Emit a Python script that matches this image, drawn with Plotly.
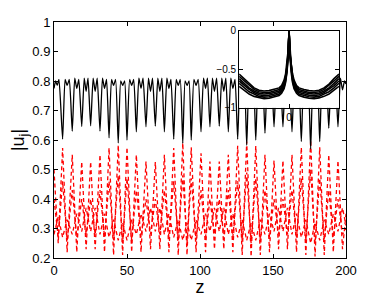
import plotly.graph_objects as go

# ---------------- main panel data ----------------
black_z = [0, 1.1, 2.2, 3.4,
           5.9, 7.6, 9.0, 10.5,
           12.5, 14.2, 15.6, 17.0,
           19.0, 20.7, 22.0, 23.3,
           25.1, 26.8, 28.2, 29.6,
           31.5, 33.2, 34.6, 36.0,
           37.7, 39.4, 40.8, 42.2,
           44.0, 45.7, 47.0, 48.4,
           50.0, 51.8, 53.2, 54.6,
           56.4, 58.1, 59.6, 61.0,
           63.0, 64.7, 66.1, 67.5,
           69.4, 71.1, 72.5, 73.9,
           75.6, 77.3, 78.7, 80.1,
           82.0, 83.7, 85.1, 86.5,
           88.2, 89.8, 91.1, 92.5,
           94.0, 95.8, 97.3, 98.8,
           100.7, 102.4, 103.8, 105.1,
           106.8, 108.5, 109.9, 111.4,
           113.2, 114.9, 116.3, 117.7,
           119.4, 121.1, 122.5, 124.0,
           125.8, 127.5, 128.9, 130.3,
           132.0, 133.7, 135.0, 136.5,
           138.2, 139.9, 141.3, 142.8,
           144.5, 146.2, 147.6, 149.0,
           150.7, 152.4, 153.8, 155.1,
           156.8, 158.5, 159.9, 161.3,
           163.0, 164.7, 166.1, 167.6,
           169.4, 171.1, 172.5, 174.0,
           175.8, 177.5, 178.8, 180.3,
           182.0, 183.7, 185.1, 186.5,
           188.2, 189.9, 191.3, 192.7,
           194.5, 196.2, 197.6, 199.0,
           200.0]
black_u = [0.775, 0.80, 0.785, 0.805,
           0.603, 0.805, 0.785, 0.805,
           0.630, 0.81, 0.775, 0.805,
           0.646, 0.81, 0.765, 0.81,
           0.648, 0.81, 0.765, 0.81,
           0.630, 0.81, 0.775, 0.805,
           0.607, 0.805, 0.785, 0.805,
           0.590, 0.80, 0.785, 0.80,
           0.600, 0.805, 0.785, 0.805,
           0.628, 0.81, 0.775, 0.81,
           0.645, 0.81, 0.765, 0.81,
           0.647, 0.81, 0.765, 0.81,
           0.628, 0.81, 0.775, 0.805,
           0.603, 0.805, 0.785, 0.805,
           0.589, 0.80, 0.785, 0.80,
           0.600, 0.805, 0.785, 0.805,
           0.628, 0.81, 0.775, 0.81,
           0.645, 0.81, 0.765, 0.81,
           0.647, 0.81, 0.765, 0.81,
           0.628, 0.81, 0.775, 0.805,
           0.603, 0.805, 0.785, 0.805,
           0.583, 0.80, 0.785, 0.80,
           0.600, 0.805, 0.785, 0.805,
           0.623, 0.81, 0.775, 0.81,
           0.645, 0.81, 0.765, 0.81,
           0.645, 0.81, 0.765, 0.81,
           0.628, 0.81, 0.775, 0.805,
           0.595, 0.805, 0.785, 0.805,
           0.570, 0.80, 0.785, 0.80,
           0.595, 0.805, 0.785, 0.805,
           0.640, 0.81, 0.775, 0.81,
           0.645, 0.81, 0.77, 0.80,
           0.79]

red_z = [0, 2.9, 5.9, 9.0, 12.5, 15.6, 19.0, 22.0, 25.1, 28.2, 31.5, 34.6,
         37.7, 40.8, 44.0, 47.0, 50.0, 53.2, 56.4, 59.6, 63.0, 66.1, 69.4,
         72.5, 75.6, 78.7, 82.0, 85.1, 88.2, 91.1, 94.0, 97.3, 100.7, 103.8,
         106.8, 109.9, 113.2, 116.3, 119.4, 122.5, 125.8, 128.9, 132.0, 135.0,
         138.2, 141.3, 144.5, 147.6, 150.7, 153.8, 156.8, 159.9, 163.0, 166.1,
         169.4, 172.5, 175.8, 178.8, 182.0, 185.1, 188.2, 191.3, 194.5, 197.6,
         200.0]
red_u1 = [0.50, 0.25, 0.573, 0.22, 0.55, 0.22, 0.526, 0.23, 0.526, 0.23,
          0.55, 0.22, 0.573, 0.21, 0.583, 0.21, 0.575, 0.22, 0.55, 0.22,
          0.527, 0.23, 0.525, 0.23, 0.55, 0.22, 0.573, 0.21, 0.59, 0.21,
          0.575, 0.22, 0.555, 0.22, 0.527, 0.23, 0.527, 0.23, 0.55, 0.22,
          0.58, 0.21, 0.595, 0.205, 0.58, 0.21, 0.55, 0.22, 0.53, 0.23,
          0.53, 0.23, 0.55, 0.22, 0.575, 0.21, 0.60, 0.205, 0.575, 0.21,
          0.55, 0.22, 0.53, 0.23, 0.35]
red_u2 = [0.40, 0.27, 0.46, 0.26, 0.43, 0.27, 0.40, 0.28, 0.40, 0.28,
          0.43, 0.27, 0.46, 0.26, 0.48, 0.25, 0.47, 0.26, 0.43, 0.27,
          0.40, 0.28, 0.40, 0.28, 0.43, 0.27, 0.46, 0.26, 0.48, 0.25,
          0.47, 0.26, 0.43, 0.27, 0.40, 0.28, 0.40, 0.28, 0.43, 0.27,
          0.46, 0.26, 0.49, 0.25, 0.47, 0.26, 0.43, 0.27, 0.40, 0.28,
          0.40, 0.28, 0.43, 0.27, 0.47, 0.26, 0.50, 0.25, 0.47, 0.26,
          0.43, 0.27, 0.40, 0.28, 0.30]
red_u3 = [0.28, 0.34, 0.27, 0.33, 0.28, 0.35, 0.29, 0.37, 0.29, 0.37,
          0.28, 0.35, 0.27, 0.33, 0.26, 0.32, 0.26, 0.33, 0.28, 0.35,
          0.29, 0.37, 0.29, 0.37, 0.28, 0.35, 0.27, 0.33, 0.26, 0.32,
          0.26, 0.33, 0.28, 0.35, 0.29, 0.37, 0.29, 0.37, 0.28, 0.35,
          0.27, 0.33, 0.26, 0.32, 0.26, 0.33, 0.28, 0.35, 0.29, 0.37,
          0.29, 0.37, 0.28, 0.35, 0.27, 0.33, 0.25, 0.32, 0.26, 0.33,
          0.28, 0.35, 0.29, 0.37, 0.31]
red_series = [red_u1, red_u2, red_u3]

x_ticks = [0, 50, 100, 150, 200]
y_ticks = [0.2, 0.3, 0.4, 0.5, 0.6, 0.7, 0.8, 0.9, 1]
y_tick_text = ["0.2", "0.3", "0.4", "0.5", "0.6", "0.7", "0.8", "0.9", "1"]

# ---------------- inset data (half profile, mirrored) ----------------
inset_half_n = [0, 0.8, 1.6, 2.8, 4, 6, 8, 12, 16, 20, 24, 28, 32, 36, 40]
inset_curves_half = [
    [0, -0.26, -0.42, -0.56, -0.64, -0.71, -0.74, -0.76, -0.775, -0.78, -0.77, -0.74, -0.69, -0.62, -0.56],
    [0, -0.28, -0.45, -0.59, -0.67, -0.73, -0.76, -0.785, -0.80, -0.80, -0.79, -0.76, -0.71, -0.65, -0.59],
    [0, -0.30, -0.47, -0.61, -0.69, -0.75, -0.78, -0.80, -0.815, -0.82, -0.81, -0.78, -0.74, -0.68, -0.62],
    [0, -0.31, -0.49, -0.63, -0.71, -0.77, -0.80, -0.82, -0.835, -0.84, -0.83, -0.80, -0.76, -0.71, -0.65],
    [0, -0.33, -0.51, -0.65, -0.73, -0.79, -0.82, -0.84, -0.855, -0.86, -0.85, -0.82, -0.79, -0.74, -0.68],
    [0, -0.34, -0.53, -0.67, -0.75, -0.81, -0.84, -0.86, -0.875, -0.88, -0.87, -0.85, -0.82, -0.77, -0.72],
]
inset_y_ticks = [-1, -0.5, 0]
inset_y_text = ["\u22121", "\u22120.5", "0"]

FONT = "Liberation Sans, Arial, Helvetica, sans-serif"

fig = go.Figure()

for ru in red_series:
    fig.add_trace(go.Scatter(x=red_z, y=ru, mode="lines",
                             line=dict(color="#ff0000", width=1.3, dash="4px,3px"),
                             showlegend=False, xaxis="x", yaxis="y"))

fig.add_trace(go.Scatter(x=black_z, y=black_u, mode="lines",
                         line=dict(color="black", width=1.3, shape="spline", smoothing=0.5),
                         showlegend=False, xaxis="x", yaxis="y"))

for half in inset_curves_half:
    xs = [-n for n in reversed(inset_half_n[1:])] + inset_half_n
    ys = list(reversed(half[1:])) + half
    fig.add_trace(go.Scatter(x=xs, y=ys, mode="lines",
                             line=dict(color="black", width=1.6),
                             showlegend=False, xaxis="x2", yaxis="y2"))

axis_common = dict(showline=True, linecolor="black", linewidth=1, mirror="ticks",
                   ticks="inside", ticklen=4, tickcolor="black", showgrid=False,
                   zeroline=False, automargin=False)

# the page body has an 8px default margin, so the figure is sized to fit
fig.update_layout(
    width=374, height=289,
    margin=dict(l=46, r=36, t=14, b=39),
    paper_bgcolor="white", plot_bgcolor="white",
    font=dict(family=FONT, color="black", size=13),
    xaxis=dict(domain=[0, 1], range=[0, 200], tickvals=x_ticks,
               title=dict(text="z", font=dict(size=18)),
               tickfont=dict(size=13), **axis_common),
    yaxis=dict(domain=[0, 1], range=[0.2, 1], tickvals=y_ticks, ticktext=y_tick_text,
               title=dict(text="|u<sub>j</sub>|", font=dict(size=18)),
               tickfont=dict(size=13), **axis_common),
    xaxis2=dict(domain=[0.634, 0.976], range=[-40, 40], tickvals=[0], ticktext=["0"],
                anchor="y2", tickfont=dict(size=10), **axis_common),
    yaxis2=dict(domain=[0.636, 0.962], range=[-1, 0], tickvals=inset_y_ticks,
                ticktext=inset_y_text, anchor="x2", tickfont=dict(size=10), **axis_common),
)

fig.write_html("out.html")
